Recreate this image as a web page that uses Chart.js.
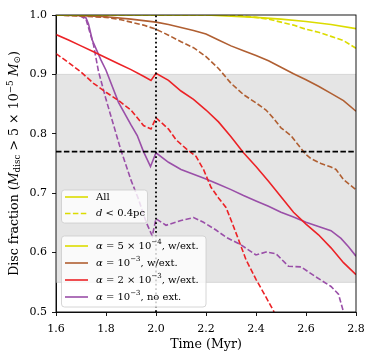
<!DOCTYPE html>
<html>
<head>
<meta charset="utf-8">
<script src="https://cdn.jsdelivr.net/npm/chart.js@4.4.1/dist/chart.umd.min.js"></script>
<style>
  html, body { margin: 0; padding: 0; background: #fff; }
  #wrap { width: 374px; height: 362px; }
</style>
</head>
<body>
<div id="wrap"><canvas id="discChart" width="374" height="362"></canvas></div>
<script>
// alpha = 5e-4, with external photoevaporation
var tYellowAll = [1.6, 2.2, 2.3, 2.4, 2.5, 2.6, 2.7, 2.8];
var fYellowAll = [1.0, 1.0, 0.998, 0.996, 0.993, 0.989, 0.984, 0.977];
var tYellowNear = [1.6, 2.3, 2.35, 2.4, 2.45, 2.5, 2.55, 2.6, 2.65, 2.7, 2.75, 2.8];
var fYellowNear = [1.0, 1.0, 0.998, 0.996, 0.993, 0.988, 0.983, 0.976, 0.971, 0.964, 0.957, 0.944];

// alpha = 1e-3, with external
var tBrownAll = [1.6, 1.7, 1.8, 1.9, 2.0, 2.05, 2.1, 2.15, 2.2, 2.25, 2.3, 2.35, 2.4, 2.45, 2.5, 2.55, 2.6, 2.65, 2.7, 2.75, 2.8];
var fBrownAll = [1.0, 0.999, 0.997, 0.993, 0.988, 0.984, 0.979, 0.974, 0.968, 0.958, 0.948, 0.940, 0.932, 0.923, 0.912, 0.901, 0.891, 0.880, 0.868, 0.856, 0.838];
var tBrownNear = [1.6, 1.7, 1.8, 1.86, 1.9, 1.95, 2.0, 2.05, 2.1, 2.15, 2.2, 2.25, 2.3, 2.35, 2.4, 2.44, 2.47, 2.5, 2.54, 2.56, 2.6, 2.62, 2.66, 2.7, 2.72, 2.75, 2.8];
var fBrownNear = [1.0, 0.998, 0.996, 0.992, 0.988, 0.983, 0.976, 0.966, 0.955, 0.945, 0.930, 0.910, 0.885, 0.866, 0.852, 0.840, 0.826, 0.810, 0.797, 0.786, 0.765, 0.758, 0.750, 0.744, 0.740, 0.723, 0.706];

// alpha = 2e-3, with external
var tRedAll = [1.6, 1.65, 1.7, 1.75, 1.8, 1.85, 1.9, 1.95, 1.98, 2.0, 2.05, 2.1, 2.15, 2.2, 2.25, 2.3, 2.35, 2.4, 2.45, 2.5, 2.55, 2.6, 2.65, 2.7, 2.75, 2.8];
var fRedAll = [0.967, 0.958, 0.948, 0.938, 0.928, 0.918, 0.908, 0.897, 0.890, 0.902, 0.890, 0.872, 0.858, 0.840, 0.820, 0.795, 0.768, 0.745, 0.720, 0.694, 0.668, 0.648, 0.630, 0.608, 0.583, 0.563];
var tRedNear = [1.6, 1.65, 1.7, 1.75, 1.8, 1.85, 1.9, 1.95, 1.98, 2.0, 2.05, 2.08, 2.12, 2.16, 2.19, 2.22, 2.25, 2.28, 2.3, 2.33, 2.36, 2.4, 2.44, 2.47, 2.48];
var fRedNear = [0.935, 0.920, 0.904, 0.885, 0.870, 0.856, 0.840, 0.814, 0.808, 0.827, 0.808, 0.790, 0.775, 0.762, 0.740, 0.710, 0.692, 0.676, 0.655, 0.622, 0.588, 0.555, 0.525, 0.502, 0.490];

// alpha = 1e-3, no external
var tPurpleAll = [1.6, 1.69, 1.72, 1.73, 1.745, 1.78, 1.8, 1.85, 1.9, 1.925, 1.95, 1.978, 2.0, 2.05, 2.1, 2.15, 2.2, 2.25, 2.3, 2.35, 2.4, 2.45, 2.5, 2.55, 2.6, 2.65, 2.7, 2.74, 2.77, 2.8];
var fPurpleAll = [1.0, 1.0, 0.995, 0.985, 0.958, 0.924, 0.907, 0.853, 0.815, 0.797, 0.770, 0.745, 0.768, 0.752, 0.740, 0.732, 0.724, 0.715, 0.706, 0.696, 0.687, 0.678, 0.668, 0.660, 0.651, 0.644, 0.637, 0.624, 0.610, 0.594];
var tPurpleNear = [1.6, 1.69, 1.72, 1.75, 1.77, 1.8, 1.83, 1.86, 1.9, 1.93, 1.96, 1.985, 2.0, 2.04, 2.1, 2.15, 2.19, 2.24, 2.28, 2.34, 2.4, 2.44, 2.48, 2.53, 2.58, 2.64, 2.7, 2.73, 2.75, 2.76];
var fPurpleNear = [1.0, 1.0, 0.993, 0.950, 0.905, 0.858, 0.815, 0.772, 0.722, 0.690, 0.652, 0.628, 0.657, 0.646, 0.654, 0.659, 0.651, 0.638, 0.626, 0.613, 0.596, 0.601, 0.598, 0.577, 0.576, 0.559, 0.543, 0.530, 0.500, 0.490];

// reference markers
var refTime = [2.0, 2.0];
var refTimeFrac = [0.5, 1.0];
var refFracTime = [1.6, 2.8];
var refFrac = [0.77, 0.77];
var bandLow = 0.55, bandHigh = 0.9;

var xTicks = [1.6, 1.8, 2.0, 2.2, 2.4, 2.6, 2.8];
var yTicks = [0.5, 0.6, 0.7, 0.8, 0.9, 1.0];

var colYellow = '#dcdc00', colBrown = '#b05f32', colRed = '#ec2226', colPurple = '#9a4fa8';
var SERIF = '"DejaVu Serif", serif';

function pts(t, f) {
    return t.map(function(v, i) { return { x: v, y: f[i] }; });
}

function line(label, t, f, color, dashed) {
    return {
        label: label,
        data: pts(t, f),
        borderColor: color,
        borderWidth: 1.6,
        borderDash: dashed ? [5.5, 2.4] : [],
        pointRadius: 0,
        tension: 0,
        fill: false
    };
}

// draw text with italic / sub / superscript pieces
function rich(ctx, parts, x, y, size, measureOnly) {
    var w = 0;
    parts.forEach(function(p) {
        var s = size * (p.s || 1);
        ctx.font = (p.i ? 'italic ' : '') + s + 'px ' + SERIF;
        if (!measureOnly) ctx.fillText(p.t, x + w, y + (p.dy || 0) * size);
        w += ctx.measureText(p.t).width;
    });
    return w;
}

var decor = {
    id: 'decor',
    beforeDatasetsDraw: function(chart) {
        var ctx = chart.ctx, a = chart.chartArea, ys = chart.scales.y;
        var y1 = ys.getPixelForValue(bandHigh), y2 = ys.getPixelForValue(bandLow);
        ctx.save();
        ctx.fillStyle = '#e5e5e5';
        ctx.fillRect(a.left, y1, a.right - a.left, y2 - y1);
        ctx.strokeStyle = '#d6d6d6';
        ctx.lineWidth = 1;
        ctx.beginPath();
        ctx.moveTo(a.left, y1); ctx.lineTo(a.right, y1);
        ctx.moveTo(a.left, y2); ctx.lineTo(a.right, y2);
        ctx.stroke();
        ctx.restore();
    },
    afterDraw: function(chart) {
        var ctx = chart.ctx, a = chart.chartArea;
        ctx.save();
        ctx.strokeStyle = '#000';
        ctx.lineWidth = 0.9;
        ctx.strokeRect(a.left, a.top, a.right - a.left, a.bottom - a.top);

        // legends
        function box(x, y, w, h) {
            ctx.beginPath();
            ctx.roundRect(x, y, w, h, 3);
            ctx.fillStyle = 'rgba(255,255,255,0.8)';
            ctx.fill();
            ctx.strokeStyle = '#cccccc';
            ctx.lineWidth = 0.8;
            ctx.stroke();
        }
        function sample(y, color, dashed) {
            ctx.beginPath();
            ctx.setLineDash(dashed ? [5.5, 2.4] : []);
            ctx.strokeStyle = color;
            ctx.lineWidth = 1.6;
            ctx.moveTo(65, y); ctx.lineTo(88, y);
            ctx.stroke();
            ctx.setLineDash([]);
        }
        ctx.textBaseline = 'middle';
        ctx.fillStyle = '#000';
        var fs = 10;
        box(61.5, 190, 86, 33);
        sample(197, colYellow, false);
        sample(213.5, colYellow, true);
        ctx.fillStyle = '#000';
        rich(ctx, [{ t: 'All' }], 96, 197, fs);
        rich(ctx, [{ t: 'd', i: 1 }, { t: ' < 0.4pc' }], 96, 213.5, fs);

        box(61.5, 236, 144.5, 71);
        var rows = [
            [colYellow, [{ t: 'α', i: 1 }, { t: ' = 5 × 10' }, { t: '−4', s: 0.7, dy: -0.35 }, { t: ', w/ext.' }]],
            [colBrown, [{ t: 'α', i: 1 }, { t: ' = 10' }, { t: '−3', s: 0.7, dy: -0.35 }, { t: ', w/ext.' }]],
            [colRed, [{ t: 'α', i: 1 }, { t: ' = 2 × 10' }, { t: '−3', s: 0.7, dy: -0.35 }, { t: ', w/ext.' }]],
            [colPurple, [{ t: 'α', i: 1 }, { t: ' = 10' }, { t: '−3', s: 0.7, dy: -0.35 }, { t: ', no ext.' }]]
        ];
        var ry = [246, 263, 280, 297];
        rows.forEach(function(r, i) {
            sample(ry[i], r[0], false);
            ctx.fillStyle = '#000';
            rich(ctx, r[1], 96, ry[i], fs);
        });

        // axis titles
        var ts = 12.6;
        ctx.fillStyle = '#000';
        var xt = [{ t: 'Time (Myr)' }];
        var xw = rich(ctx, xt, 0, 0, ts, true);
        rich(ctx, xt, (a.left + a.right) / 2 - xw / 2, 345, ts);

        var yt = [
            { t: 'Disc fraction (' }, { t: 'M', i: 1 }, { t: 'disc', s: 0.7, dy: 0.25 },
            { t: ' > 5 × 10' }, { t: '−5', s: 0.7, dy: -0.35 }, { t: ' ' }, { t: 'M', i: 1 },
            { t: '⊙', s: 0.7, dy: 0.25 }, { t: ')' }
        ];
        var yw = rich(ctx, yt, 0, 0, ts, true);
        ctx.translate(15, (a.top + a.bottom) / 2);
        ctx.rotate(-Math.PI / 2);
        rich(ctx, yt, -yw / 2, 0, ts);
        ctx.restore();
    }
};

new Chart(document.getElementById('discChart'), {
    type: 'line',
    data: {
        datasets: [
            {
                data: pts(refTime, refTimeFrac), borderColor: '#000', borderWidth: 1.8,
                borderDash: [1.8, 2.6], pointRadius: 0, fill: false
            },
            {
                data: pts(refFracTime, refFrac), borderColor: '#000', borderWidth: 1.6,
                borderDash: [5.5, 2.4], pointRadius: 0, fill: false
            },
            line('a5e-4 all', tYellowAll, fYellowAll, colYellow, false),
            line('a5e-4 near', tYellowNear, fYellowNear, colYellow, true),
            line('a1e-3 all', tBrownAll, fBrownAll, colBrown, false),
            line('a1e-3 near', tBrownNear, fBrownNear, colBrown, true),
            line('a2e-3 all', tRedAll, fRedAll, colRed, false),
            line('a2e-3 near', tRedNear, fRedNear, colRed, true),
            line('noext all', tPurpleAll, fPurpleAll, colPurple, false),
            line('noext near', tPurpleNear, fPurpleNear, colPurple, true)
        ]
    },
    options: {
        responsive: false,
        animation: false,
        layout: { padding: { top: 15, right: 18, left: 0, bottom: 0 } },
        plugins: {
            legend: { display: false },
            tooltip: { enabled: false }
        },
        scales: {
            x: {
                type: 'linear', min: 1.6, max: 2.8,
                afterBuildTicks: function(s) { s.ticks = xTicks.map(function(v) { return { value: v }; }); },
                afterFit: function(s) { s.height = 50; },
                grid: { drawOnChartArea: false, drawTicks: true, tickLength: 4, color: '#000', lineWidth: 0.9 },
                border: { display: true, color: '#000', width: 0.9 },
                ticks: {
                    color: '#000', padding: 7, maxRotation: 0,
                    font: { family: SERIF, size: 11 },
                    callback: function(v) { return v.toFixed(1); }
                }
            },
            y: {
                min: 0.5, max: 1.0,
                afterBuildTicks: function(s) { s.ticks = yTicks.map(function(v) { return { value: v }; }); },
                afterFit: function(s) { s.width = 56; },
                grid: { drawOnChartArea: false, drawTicks: true, tickLength: 4, color: '#000', lineWidth: 0.9 },
                border: { display: true, color: '#000', width: 0.9 },
                ticks: {
                    color: '#000', padding: 5,
                    font: { family: SERIF, size: 11 },
                    callback: function(v) { return v.toFixed(1); }
                }
            }
        }
    },
    plugins: [decor]
});
</script>
</body>
</html>
